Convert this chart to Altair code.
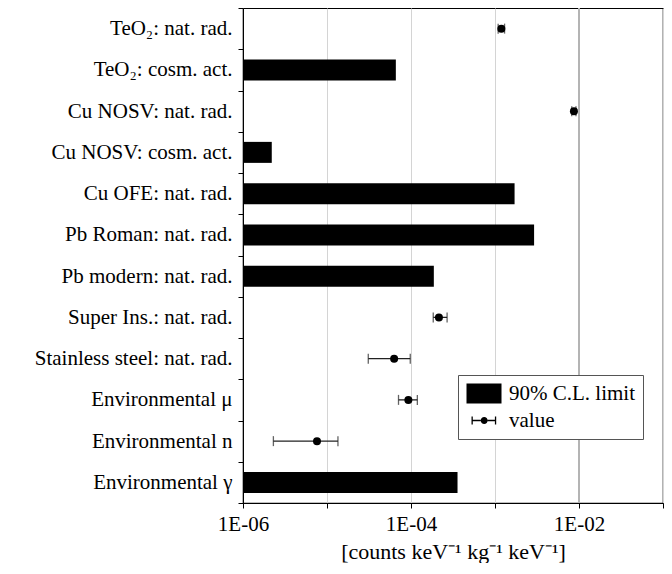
import altair as alt
import pandas as pd

categories = [
    "TeO₂: nat. rad.", "TeO₂: cosm. act.", "Cu NOSV: nat. rad.", "Cu NOSV: cosm. act.",
    "Cu OFE: nat. rad.", "Pb Roman: nat. rad.", "Pb modern: nat. rad.",
    "Super Ins.: nat. rad.", "Stainless steel: nat. rad.",
    "Environmental μ", "Environmental n", "Environmental γ",
]

limit_cats = ["TeO₂: cosm. act.", "Cu NOSV: cosm. act.", "Cu OFE: nat. rad.",
              "Pb Roman: nat. rad.", "Pb modern: nat. rad.", "Environmental γ"]
limit_vals = [6.6e-5, 2.2e-6, 1.71e-3, 2.92e-3, 1.87e-4, 3.58e-4]

value_cats = ["TeO₂: nat. rad.", "Cu NOSV: nat. rad.", "Super Ins.: nat. rad.",
              "Stainless steel: nat. rad.", "Environmental μ", "Environmental n"]
values = [1.19e-3, 8.7e-3, 2.15e-4, 6.3e-5, 9.3e-5, 7.6e-6]
values_lo = [1.09e-3, 8.2e-3, 1.84e-4, 3.1e-5, 7.1e-5, 2.3e-6]
values_hi = [1.30e-3, 9.2e-3, 2.69e-4, 9.8e-5, 1.19e-4, 1.35e-5]

x_domain = [1e-6, 1e-1]
tick_values = [1e-6, 1e-5, 1e-4, 1e-3, 1e-2, 1e-1]
tick_labels = ["1E-06", "", "1E-04", "", "1E-02", ""]
ref_line = [1e-2]

legend_labels = ["90% C.L. limit", "value"]

FONT = "Liberation Serif, serif"
FS = 21

limits_df = pd.DataFrame({"cat": limit_cats, "val": limit_vals, "base": x_domain[0]})
values_df = pd.DataFrame({"cat": value_cats, "val": values, "lo": values_lo, "hi": values_hi})
ref_df = pd.DataFrame({"x": ref_line})
legend_df = pd.DataFrame({"kind": legend_labels})

label_expr = ""
for v, lab in zip(tick_values, tick_labels):
    label_expr += f"abs(datum.value - {v}) < {v}*0.01 ? '{lab}' : "
label_expr += "''"

xscale = alt.Scale(type="log", domain=x_domain, nice=False)
yscale = alt.Scale(domain=categories, paddingInner=0.0, paddingOuter=0.0)

x_axis = alt.Axis(
    values=tick_values, labelExpr=label_expr, grid=True, gridColor="#d4d4d4",
    gridWidth=1, tickColor="black", tickSize=5, domainColor="black",
    labelFont=FONT, labelFontSize=FS, labelColor="black", labelPadding=5,
    title="[counts keV⁻¹ kg⁻¹ keV⁻¹]", titleFont=FONT, titleFontSize=22,
    titleFontWeight="normal", titleColor="black", titlePadding=7,
    labelFlush=False,
)
y_axis = alt.Axis(
    title=None, tickBand="extent", tickSize=5, tickColor="black", domainColor="black",
    labelFont=FONT, labelFontSize=FS, labelColor="black", labelPadding=6,
    grid=False, labelLimit=400,
)

ref = alt.Chart(ref_df).mark_rule(color="#b4b4b4", strokeWidth=2).encode(
    x=alt.X("x:Q", scale=xscale, axis=x_axis),
)

bars = alt.Chart(limits_df).mark_bar(color="black", size=21).encode(
    x=alt.X("base:Q", scale=xscale, axis=x_axis),
    x2="val:Q",
    y=alt.Y("cat:N", scale=yscale, axis=y_axis, sort=categories),
)

err = alt.Chart(values_df).mark_rule(color="#222222", strokeWidth=1.3).encode(
    x=alt.X("lo:Q", scale=xscale),
    x2="hi:Q",
    y=alt.Y("cat:N", scale=yscale, sort=categories),
)
cap_lo = alt.Chart(values_df).mark_tick(color="#222222", thickness=1.3, size=10, orient="vertical").encode(
    x=alt.X("lo:Q", scale=xscale),
    y=alt.Y("cat:N", scale=yscale, sort=categories),
)
cap_hi = alt.Chart(values_df).mark_tick(color="#222222", thickness=1.3, size=10, orient="vertical").encode(
    x=alt.X("hi:Q", scale=xscale),
    y=alt.Y("cat:N", scale=yscale, sort=categories),
)
pts = alt.Chart(values_df).mark_point(filled=True, color="black", size=64, opacity=1).encode(
    x=alt.X("val:Q", scale=xscale),
    y=alt.Y("cat:N", scale=yscale, sort=categories),
)

# legend glyphs drawn as filled shapes (thin rectangles for the error-bar lines)
bar_path = "M-1,-1H2.5V1H-1Z"
err_path = ("M-0.50,-0.4H-0.37V0.4H-0.50Z"
            "M1.84,-0.4H1.97V0.4H1.84Z"
            "M-0.37,-0.065H0.42V0.065H-0.37Z"
            "M1.12,-0.065H1.84V0.065H1.12Z"
            "M1.12,0A0.35,0.35 0 1,1 0.42,0A0.35,0.35 0 1,1 1.12,0Z")

legend_layer = alt.Chart(legend_df).mark_point(
    filled=True, color="black"
).encode(
    shape=alt.Shape("kind:N", scale=alt.Scale(domain=legend_labels, range=[bar_path, err_path]),
                    legend=alt.Legend(
                        title=None, orient="none", legendX=215, legendY=367,
                        symbolSize=400, symbolFillColor="black", symbolStrokeColor="black",
                        symbolStrokeWidth=0, symbolOpacity=1,
                        labelFont=FONT, labelFontSize=FS, labelColor="black", labelOffset=22,
                        strokeColor="#555555", fillColor="white", padding=8, rowPadding=5,
                    )),
).transform_filter("false")

chart = alt.layer(ref, bars, err, cap_lo, cap_hi, pts, legend_layer).properties(
    width=420, height=495,
    padding={"left": 235, "top": 0, "right": 1, "bottom": 60},
    autosize=alt.AutoSizeParams(type="none"),
).configure_view(stroke="black", strokeWidth=1.2).configure_axis(gridOpacity=1)

chart.save("out.html", embed_options={"renderer": "svg", "actions": False})
